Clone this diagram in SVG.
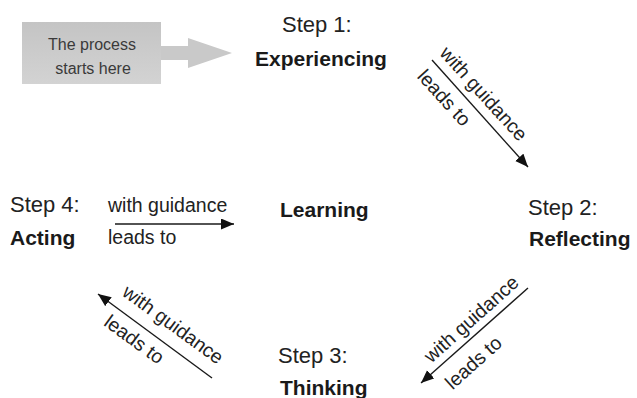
<svg xmlns="http://www.w3.org/2000/svg" width="637" height="398" viewBox="0 0 637 398">
  <style>
    text { font-family: "Liberation Sans", Arial, sans-serif; fill: #1a1a1a; }
    .step { font-size: 22px; fill: #222; }
    .bold { font-size: 21px; font-weight: bold; }
    .lbl { font-size: 19.5px; fill: #222; }
    .box { font-size: 16px; fill: #3a3a3a; text-anchor: middle; }
    .conn { stroke: #1a1a1a; stroke-width: 1.4; fill: none; marker-end: url(#ah); }
  </style>
  <defs>
    <linearGradient id="g" x1="0" y1="0" x2="0" y2="1">
      <stop offset="0" stop-color="#c4c4c4"/>
      <stop offset="1" stop-color="#d3d3d3"/>
    </linearGradient>
    <marker id="ah" markerUnits="userSpaceOnUse" markerWidth="14" markerHeight="12" refX="13" refY="5.5" orient="auto">
      <path d="M0,0 L13,5.5 L0,11 z" fill="#111"/>
    </marker>
  </defs>

  <g id="start">
    <rect x="22" y="22" width="139" height="62" fill="url(#g)"/>
    <path d="M161,46 L188,46 L188,38 L232,53 L188,68 L188,60 L161,60 z" fill="#c9c9c9"/>
    <text class="box" x="92" y="50">The process</text>
    <text class="box" x="93" y="74">starts here</text>
  </g>

  <g id="step1">
    <text class="step" x="282" y="32">Step 1:</text>
    <text class="bold" x="255" y="66">Experiencing</text>
  </g>
  <g id="step2">
    <text class="step" x="528" y="215">Step 2:</text>
    <text class="bold" x="529" y="246">Reflecting</text>
  </g>
  <g id="step3">
    <text class="step" x="278" y="363">Step 3:</text>
    <text class="bold" x="280" y="395">Thinking</text>
  </g>
  <g id="step4">
    <text class="step" x="10" y="212">Step 4:</text>
    <text class="bold" x="10" y="245">Acting</text>
  </g>
  <g id="learning">
    <text class="bold" x="280" y="217">Learning</text>
  </g>

  <g id="connectors">
    <line class="conn" x1="432" y1="60" x2="528" y2="167"/>
    <g transform="translate(432,60) rotate(47.8)">
      <text class="lbl" x="0" y="-9">with guidance</text>
      <text class="lbl" x="2" y="23">leads to</text>
    </g>

    <line class="conn" x1="528" y1="288" x2="421" y2="383"/>
    <g transform="translate(421.7,383) rotate(-41.8)">
      <text class="lbl" x="20" y="-8">with guidance</text>
      <text class="lbl" x="18" y="26">leads to</text>
    </g>

    <line class="conn" x1="212" y1="378" x2="98" y2="294"/>
    <g transform="translate(98,294) rotate(36.1)">
      <text class="lbl" x="19" y="-13">with guidance</text>
      <text class="lbl" x="22" y="22">leads to</text>
    </g>

    <line class="conn" x1="115" y1="224" x2="234" y2="224"/>
    <text class="lbl" x="108" y="212">with guidance</text>
    <text class="lbl" x="108" y="244">leads to</text>
  </g>
</svg>
